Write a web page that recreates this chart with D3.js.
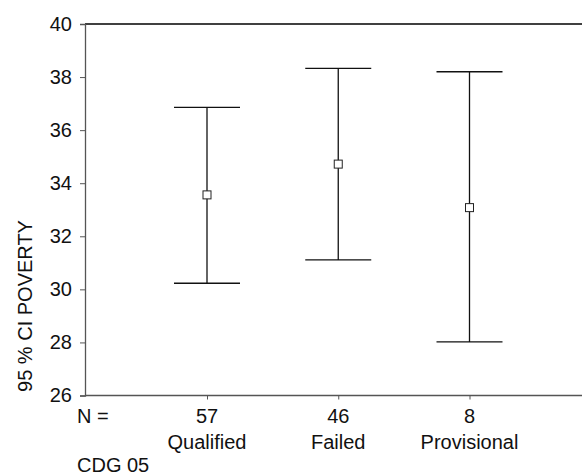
<!DOCTYPE html>
<html>
<head>
<meta charset="utf-8">
<script src="https://cdn.jsdelivr.net/npm/d3@7"></script>
<style>
  body { margin: 0; background: #fff; }
  svg text { font-family: "Liberation Sans", Arial, Helvetica, sans-serif; fill: #111; }
</style>
</head>
<body>
<div id="chart"></div>
<script>
// groups, sample sizes and 95% CI of POVERTY
var categories = ["Qualified", "Failed", "Provisional"];
var counts = [57, 46, 8];
var means = [33.56, 34.72, 33.08];
var lower = [30.23, 31.11, 28.02];
var upper = [36.86, 38.33, 38.20];
var yTicks = [26, 28, 30, 32, 34, 36, 38, 40];

var width = 582,
    height = 475,
    margin = {top: 24, left: 85, bottom: 80},
    fs = "20px";

var svg = d3.select("#chart").append("svg")
    .attr("width", width)
    .attr("height", height);

var y = d3.scaleLinear()
    .domain([26, 40])
    .range([height - margin.bottom + 0.5, margin.top]);

var x = d3.scalePoint()
    .domain(categories)
    .range([207, 469.5]);

var data = categories.map(function(c, i) {
  return {cat: c, n: counts[i], mean: means[i], lo: lower[i], hi: upper[i]};
});

// top frame line
svg.append("line")
    .attr("x1", margin.left).attr("x2", width)
    .attr("y1", y(40)).attr("y2", y(40))
    .attr("stroke", "#000").attr("stroke-width", 1.3);

// y axis
var yAxis = svg.append("g")
    .attr("transform", "translate(" + margin.left + ",0)")
    .call(d3.axisLeft(y).tickValues(yTicks).tickSize(5).tickPadding(8));
yAxis.select(".domain").attr("stroke", "#555").attr("stroke-width", 1.3);
yAxis.selectAll(".tick line").attr("stroke", "#555");
yAxis.selectAll("text").style("font-size", fs).attr("fill", "#111");

// x axis
var xAxis = svg.append("g")
    .attr("transform", "translate(0," + y(26) + ")")
    .call(d3.axisBottom(x).tickSize(4).tickFormat(""));
xAxis.select(".domain")
    .attr("d", "M" + margin.left + ",0H" + width)
    .attr("stroke", "#555").attr("stroke-width", 1.3);
xAxis.selectAll(".tick line").attr("stroke", "#555");

// N counts and group names
svg.selectAll(".nlab")
    .data(data)
  .enter().append("text")
    .attr("class", "nlab")
    .attr("x", function(d) { return x(d.cat); })
    .attr("y", 423)
    .attr("text-anchor", "middle")
    .style("font-size", fs)
    .text(function(d) { return d.n; });

svg.selectAll(".clab")
    .data(data)
  .enter().append("text")
    .attr("class", "clab")
    .attr("x", function(d) { return x(d.cat); })
    .attr("y", 449)
    .attr("text-anchor", "middle")
    .style("font-size", fs)
    .text(function(d) { return d.cat; });

svg.append("text")
    .attr("x", 77).attr("y", 423)
    .style("font-size", fs)
    .text("N =");

svg.append("text")
    .attr("x", 77).attr("y", 472)
    .style("font-size", fs)
    .text("CDG 05");

// y title
svg.append("text")
    .attr("transform", "translate(32,306) rotate(-90)")
    .attr("text-anchor", "middle")
    .style("font-size", fs)
    .text("95 % CI POVERTY");

// error bars
var g = svg.selectAll(".bar")
    .data(data)
  .enter().append("g")
    .attr("class", "bar");

g.append("line")
    .attr("x1", function(d) { return x(d.cat); })
    .attr("x2", function(d) { return x(d.cat); })
    .attr("y1", function(d) { return y(d.hi); })
    .attr("y2", function(d) { return y(d.lo); })
    .attr("stroke", "#111").attr("stroke-width", 1.3);

["hi", "lo"].forEach(function(k) {
  g.append("line")
      .attr("x1", function(d) { return x(d.cat) - 33; })
      .attr("x2", function(d) { return x(d.cat) + 33; })
      .attr("y1", function(d) { return y(d[k]); })
      .attr("y2", function(d) { return y(d[k]); })
      .attr("stroke", "#111").attr("stroke-width", 1.3);
});

g.append("rect")
    .attr("x", function(d) { return x(d.cat) - 4; })
    .attr("y", function(d) { return y(d.mean) - 4; })
    .attr("width", 8).attr("height", 8)
    .attr("fill", "#fff")
    .attr("stroke", "#222").attr("stroke-width", 1);
</script>
</body>
</html>
